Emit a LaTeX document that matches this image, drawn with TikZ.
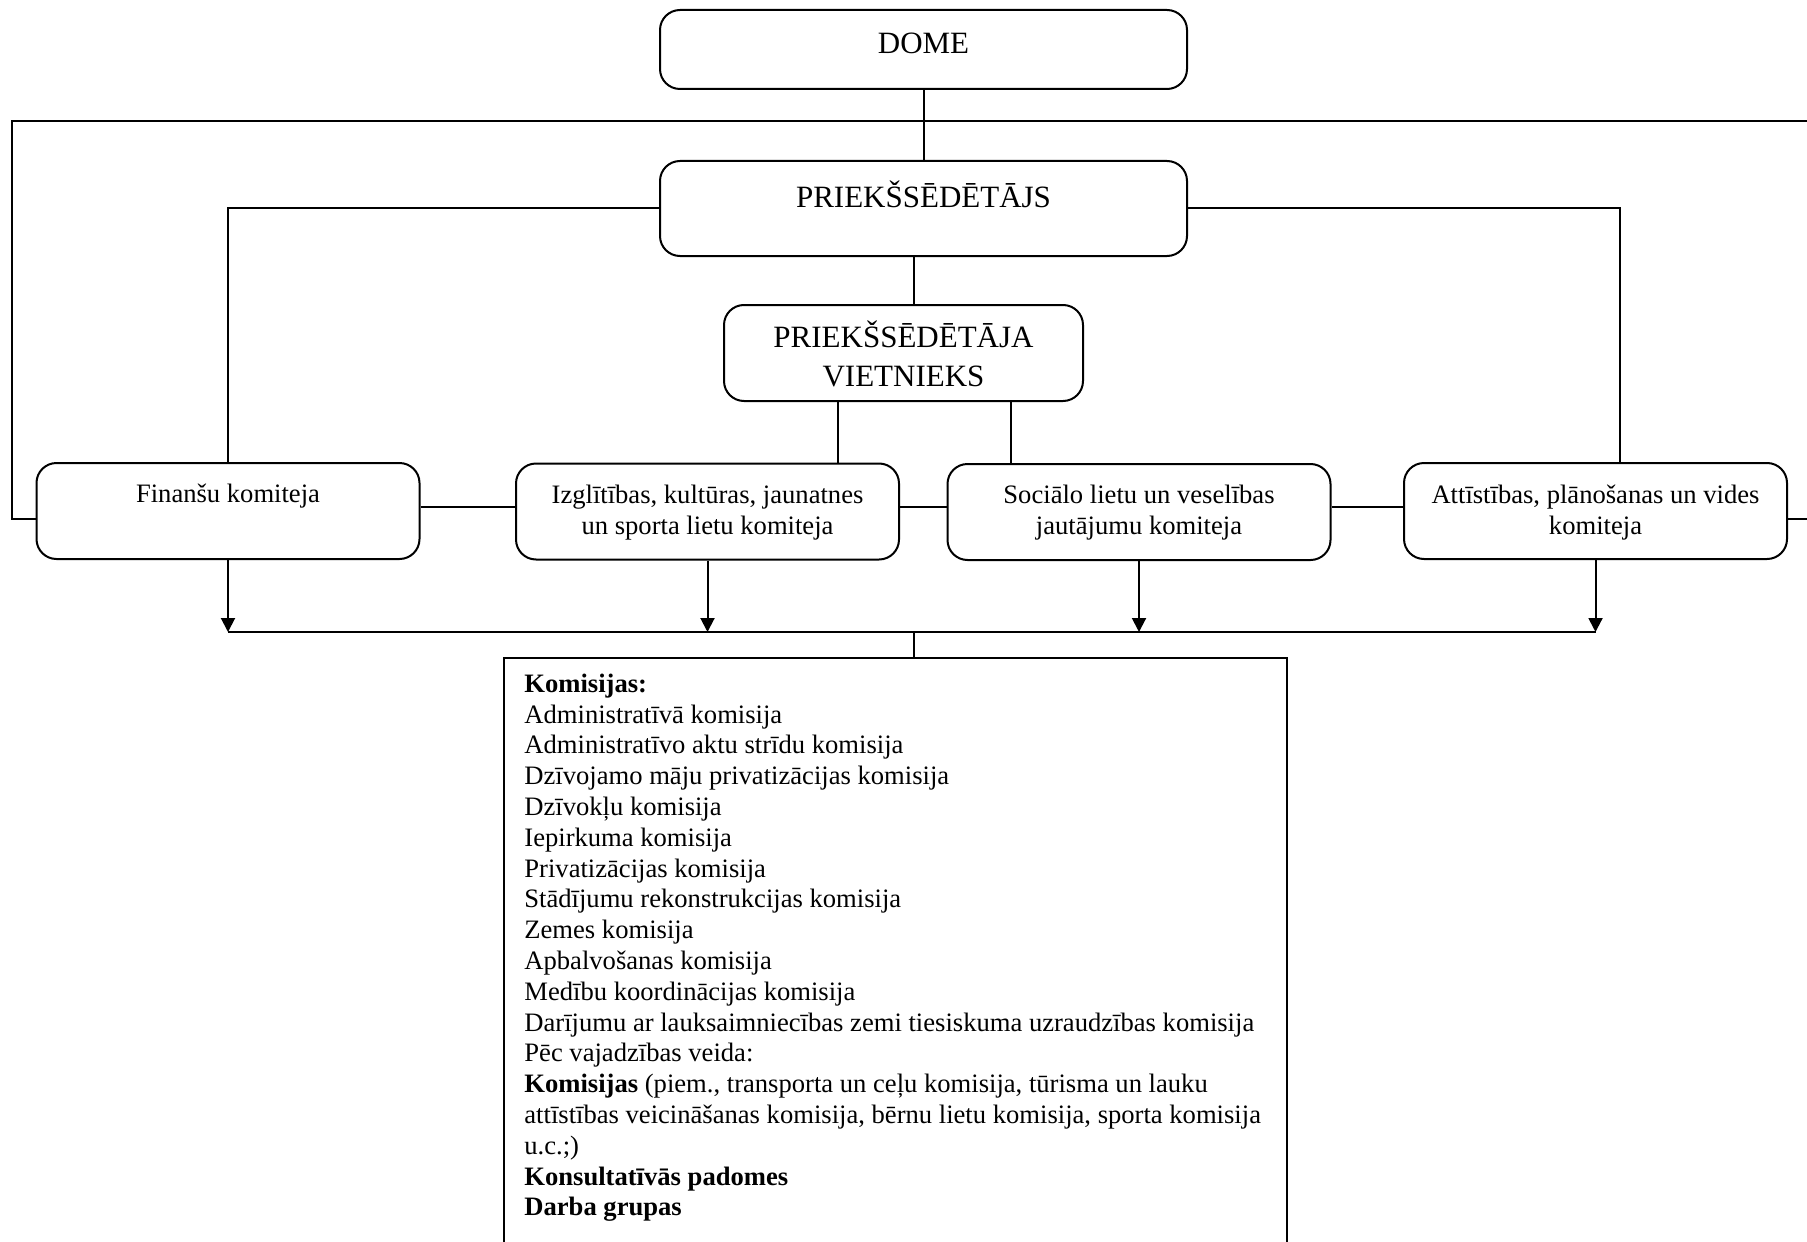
\documentclass[tikz,border=0pt]{standalone}
\usepackage{fontspec}
\setmainfont{Liberation Serif}
\usetikzlibrary{arrows.meta,calc}
\newcommand\fsmall{\fontsize{13.3pt}{15.4pt}\selectfont}
\newcommand\fbig{\fontsize{15.5pt}{19.5pt}\selectfont}
\begin{document}
\begin{tikzpicture}[x=0.5pt,y=-0.5pt,
  line/.style={line width=1pt},
  rbox/.style={draw, line width=1pt, rounded corners=10pt, inner sep=0pt, minimum width=191.5pt, minimum height=48pt},
  lbl/.style={inner sep=0pt, font=\fsmall},
  big/.style={inner sep=0pt, font=\fbig},
  arr/.style={line width=1pt, -{Triangle[length=7pt,width=7pt]}}]
\useasboundingbox (0,0) rectangle (1807,1241);
\fill[white] (0,0) rectangle (1807,1241);
\clip (0,0) rectangle (1807,1241);

% top boxes
\node[rbox, minimum width=263.5pt, minimum height=39.5pt] (dome) at (923.5,49.5) {};
\node[big, anchor=base] (domet) at (923.5,54) {DOME};
\node[rbox, minimum width=263.5pt, minimum height=47.5pt] (pr) at (923.5,208.5) {};
\node[big, anchor=base] (prt) at (923.5,207) {PRIEKŠSĒDĒTĀJS};
\node[rbox, minimum width=179.5pt, minimum height=48pt] (vt) at (903.5,353) {};
\node[big, align=center, anchor=north] (vtt) at (903.5,320) {\strut PRIEKŠSĒDĒTĀJA\\VIETNIEKS};

% committees
\node[rbox] (fin) at (228,511) {};
\node[lbl, anchor=base] (fint) at (228,502) {Finanšu komiteja};
\node[rbox] (izg) at (707.5,511.5) {};
\node[lbl, align=center, anchor=north] (izgt) at (707.5,481.5) {\strut Izglītības, kultūras, jaunatnes\\un sporta lietu komiteja};
\node[rbox] (soc) at (1139,512) {};
\node[lbl, align=center, anchor=north] (soct) at (1139,481.5) {\strut Sociālo lietu un veselības\\jautājumu komiteja};
\node[rbox] (att) at (1595.5,511) {};
\node[lbl, align=center, anchor=north] (attt) at (1595.5,481.5) {\strut Attīstības, plānošanas un vides\\komiteja};

% commissions box
\node[draw, line width=1.1pt, inner sep=0pt, minimum width=391.5pt, minimum height=320pt, anchor=north] (kom) at (895.5,657) {};
\node[lbl, align=left, anchor=north west] (komt) at (524,670.4) {\strut\textbf{Komisijas:}\\
Administratīvā komisija\\
Administratīvo aktu strīdu komisija\\
Dzīvojamo māju privatizācijas komisija\\
Dzīvokļu komisija\\
Iepirkuma komisija\\
Privatizācijas komisija\\
Stādījumu rekonstrukcijas komisija\\
Zemes komisija\\
Apbalvošanas komisija\\
Medību koordinācijas komisija\\
Darījumu ar lauksaimniecības zemi tiesiskuma uzraudzības komisija\\
Pēc vajadzības veida:\\
\textbf{Komisijas} (piem., transporta un ceļu komisija, tūrisma un lauku\\
attīstības veicināšanas komisija, bērnu lietu komisija, sporta komisija\\
u.c.;)\\
\textbf{Konsultatīvās padomes}\\
\textbf{Darba grupas}};

% helper coordinates
\coordinate (lt) at (12,121);
\coordinate (lb) at (12,519);
\coordinate (rt) at (1830,121);
\coordinate (rb) at (1830,519);
\coordinate (px) at (914,0);
\coordinate (ax) at (1620,0);
\coordinate (v1) at (838,0);
\coordinate (v2) at (1011,0);
\coordinate (hy) at (0,507);
\coordinate (by) at (0,632);

% connectors
\draw[line] (dome) -- (pr);
\draw[line] (fin.west |- lb) -- (lb) -- (lt) -- (rt) -- (rb) -- (att.east |- rb);
\draw[line] (pr.west) -| (fin.north);
\draw[line] (pr.east) -| (att.north -| ax);
\draw[line] (pr.south -| px) -- (vt.north -| px);
\draw[line] (vt.south -| v1) -- (izg.north -| v1);
\draw[line] (vt.south -| v2) -- (soc.north -| v2);
\draw[line] (fin.east |- hy) -- (izg.west |- hy);
\draw[line] (izg.east |- hy) -- (soc.west |- hy);
\draw[line] (soc.east |- hy) -- (att.west |- hy);
\draw[arr] (fin.south) -- (fin.south |- by);
\draw[arr] (izg.south) -- (izg.south |- by);
\draw[arr] (soc.south) -- (soc.south |- by);
\draw[arr] (att.south) -- (att.south |- by);
\draw[line] (fin.south |- by) -- (att.south |- by);
\draw[line] (px |- by) -- (kom.north -| px);
\end{tikzpicture}
\end{document}
